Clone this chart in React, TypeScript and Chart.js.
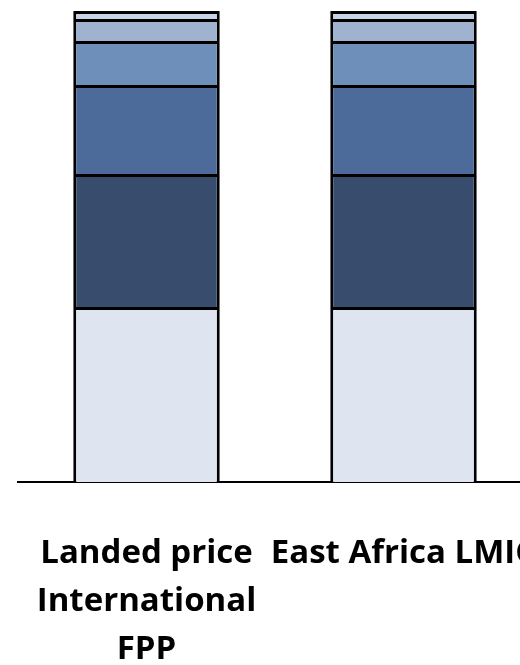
import React, { useEffect, useRef } from "react";
import { Chart, registerables } from "chart.js";

Chart.register(...registerables);

const categories: string[][] = [
  ["Landed price", "International", "FPP"],
  ["East Africa LMIC"],
];

// Cost components, stacked from the bottom up
const baseCost = [17.5, 17.5];
const componentA = [13.3, 13.3];
const componentB = [8.9, 8.9];
const componentC = [4.4, 4.4];
const componentD = [2.2, 2.2];
const componentE = [0.8, 0.8];

const yMax = 48.2;

const seriesColors = ["#dee5f0", "#384d6e", "#4d6b9a", "#6f8fbb", "#9fb2d0", "#c6d2e6"];

export default function App() {
  const canvasRef = useRef<HTMLCanvasElement | null>(null);

  useEffect(() => {
    if (!canvasRef.current) return;
    const series = [baseCost, componentA, componentB, componentC, componentD, componentE];
    const chart = new Chart(canvasRef.current, {
      type: "bar",
      data: {
        labels: categories,
        datasets: series.map((data, i) => ({
          label: `Component ${i + 1}`,
          data,
          backgroundColor: seriesColors[i],
          borderColor: "#000000",
          borderWidth: 3,
          barPercentage: 0.57,
          categoryPercentage: 1,
        })),
      },
      options: {
        responsive: false,
        animation: false,
        layout: { padding: { left: 18, top: 0, right: 0, bottom: 0 } },
        plugins: { legend: { display: false }, tooltip: { enabled: false } },
        scales: {
          x: {
            stacked: true,
            grid: { display: false, drawTicks: false },
            border: { display: true, color: "#000000", width: 2 },
            ticks: {
              color: "#000000",
              padding: 48,
              maxRotation: 0,
              autoSkip: false,
              font: { family: "'Open Sans'", weight: "bold", size: 33, lineHeight: 48 / 33 },
            },
            afterFit: (scale: any) => {
              // fixed band below the plot for the category labels
              scale.height = 183;
              scale.paddingLeft = 0;
              scale.paddingRight = 0;
            },
          },
          y: {
            stacked: true,
            display: false,
            min: 0,
            max: yMax,
          },
        },
      },
    });
    return () => chart.destroy();
  }, []);

  return (
    <div style={{ position: "fixed", left: 0, top: 0, width: 520, height: 665, overflow: "hidden", background: "#fff" }}>
      <canvas ref={canvasRef} width={532} height={665} style={{ display: "block" }} />
    </div>
  );
}
